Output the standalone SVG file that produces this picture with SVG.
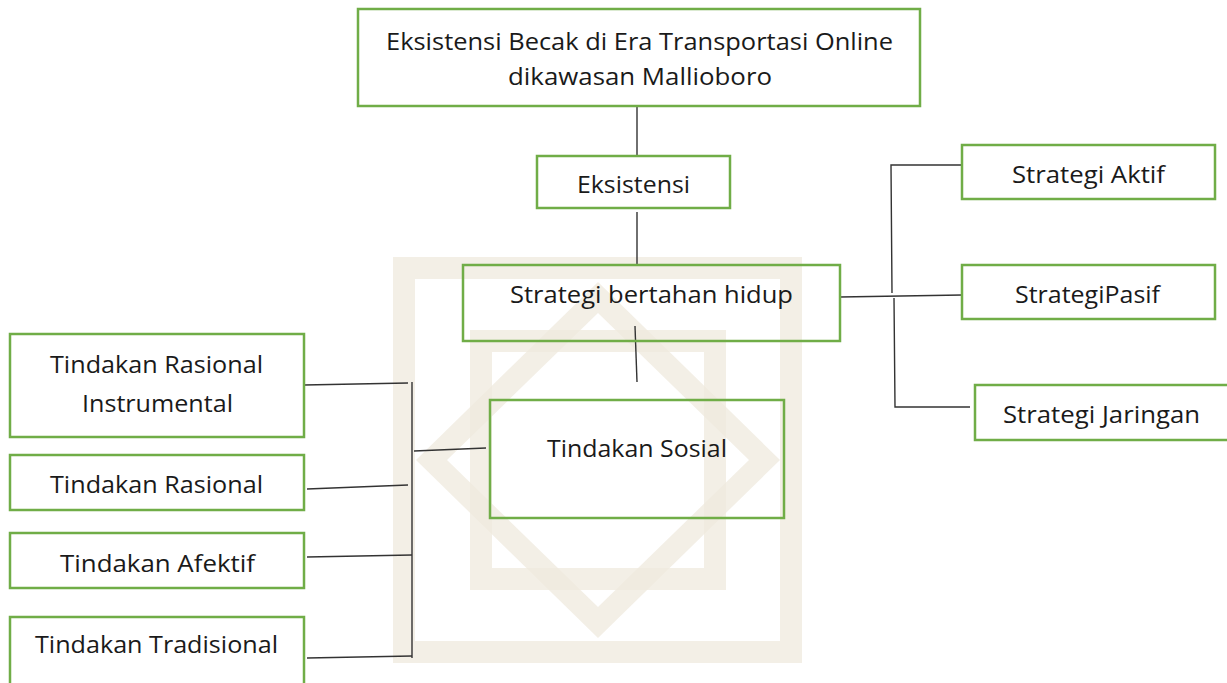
<svg xmlns="http://www.w3.org/2000/svg" width="1227" height="683" viewBox="0 0 1227 683">
<style>
.box{fill:none;stroke:#70ad47;stroke-width:2.5}
.t{font-family:"Open Sans","Liberation Sans",sans-serif;font-size:23px;fill:#1a1a1a}
.c{fill:none;stroke:#333;stroke-width:1.4}
.wm{fill:#efe9dd;fill-opacity:0.75}
</style>
<rect width="1227" height="683" fill="#fff"/>
<g id="watermark">
<path class="wm" fill-rule="evenodd" d="M393 257H802V663H393Z M415 279V641H780V279Z"/>
<path class="wm" fill-rule="evenodd" d="M598 282L780 460L598 638L416 460Z M598 313L749 460L598 607L447 460Z"/>
<path class="wm" fill-rule="evenodd" d="M470 330H726V590H470Z M492 352V568H704V352Z"/>
</g>
<g id="connectors">
<line class="c" x1="637" y1="106" x2="637" y2="156"/>
<line class="c" x1="637" y1="212" x2="637" y2="265"/>
<line class="c" x1="635" y1="326" x2="637" y2="382"/>
<polyline class="c" points="840,297 962,295"/>
<polyline class="c" points="962,165 891,165 892,293"/>
<polyline class="c" points="894,298 895,407 970,407"/>
<line class="c" x1="412" y1="382" x2="412" y2="658"/>
<line class="c" x1="304" y1="385" x2="408" y2="383"/>
<line class="c" x1="307" y1="489" x2="408" y2="485"/>
<line class="c" x1="307" y1="557" x2="412" y2="555"/>
<line class="c" x1="307" y1="658" x2="412" y2="656"/>
<line class="c" x1="414" y1="451" x2="486" y2="448"/>
</g>
<g id="n-top">
<rect class="box" x="358" y="9" width="562" height="97"/>
<text class="t" x="386" y="50" textLength="507" lengthAdjust="spacingAndGlyphs">Eksistensi Becak di Era Transportasi Online</text>
<text class="t" x="508" y="85" textLength="264" lengthAdjust="spacingAndGlyphs">dikawasan Mallioboro</text>
</g>
<g id="n-eksistensi">
<rect class="box" x="537" y="156" width="193" height="52"/>
<text class="t" x="577" y="193" textLength="113" lengthAdjust="spacingAndGlyphs">Eksistensi</text>
</g>
<g id="n-strategi">
<rect class="box" x="463" y="265" width="377" height="76"/>
<text class="t" x="510" y="303" textLength="283" lengthAdjust="spacingAndGlyphs">Strategi bertahan hidup</text>
</g>
<g id="n-sosial">
<rect class="box" x="490" y="400" width="294" height="118"/>
<text class="t" x="547" y="457" textLength="180" lengthAdjust="spacingAndGlyphs">Tindakan Sosial</text>
</g>
<g id="n-aktif">
<rect class="box" x="962" y="145" width="253" height="54"/>
<text class="t" x="1012" y="183" textLength="153" lengthAdjust="spacingAndGlyphs">Strategi Aktif</text>
</g>
<g id="n-pasif">
<rect class="box" x="962" y="265" width="253" height="54"/>
<text class="t" x="1015" y="303" textLength="145" lengthAdjust="spacingAndGlyphs">StrategiPasif</text>
</g>
<g id="n-jaringan">
<rect class="box" x="975" y="385" width="260" height="55"/>
<text class="t" x="1003" y="423" textLength="197" lengthAdjust="spacingAndGlyphs">Strategi Jaringan</text>
</g>
<g id="n-tri">
<rect class="box" x="10" y="334" width="294" height="103"/>
<text class="t" x="50" y="373" textLength="213" lengthAdjust="spacingAndGlyphs">Tindakan Rasional</text>
<text class="t" x="82" y="412" textLength="151" lengthAdjust="spacingAndGlyphs">Instrumental</text>
</g>
<g id="n-tr">
<rect class="box" x="10" y="455" width="294" height="55"/>
<text class="t" x="50" y="493" textLength="213" lengthAdjust="spacingAndGlyphs">Tindakan Rasional</text>
</g>
<g id="n-ta">
<rect class="box" x="10" y="533" width="294" height="55"/>
<text class="t" x="60" y="572" textLength="195" lengthAdjust="spacingAndGlyphs">Tindakan Afektif</text>
</g>
<g id="n-tt">
<rect class="box" x="10" y="617" width="294" height="80"/>
<text class="t" x="35" y="653" textLength="243" lengthAdjust="spacingAndGlyphs">Tindakan Tradisional</text>
</g>
</svg>
